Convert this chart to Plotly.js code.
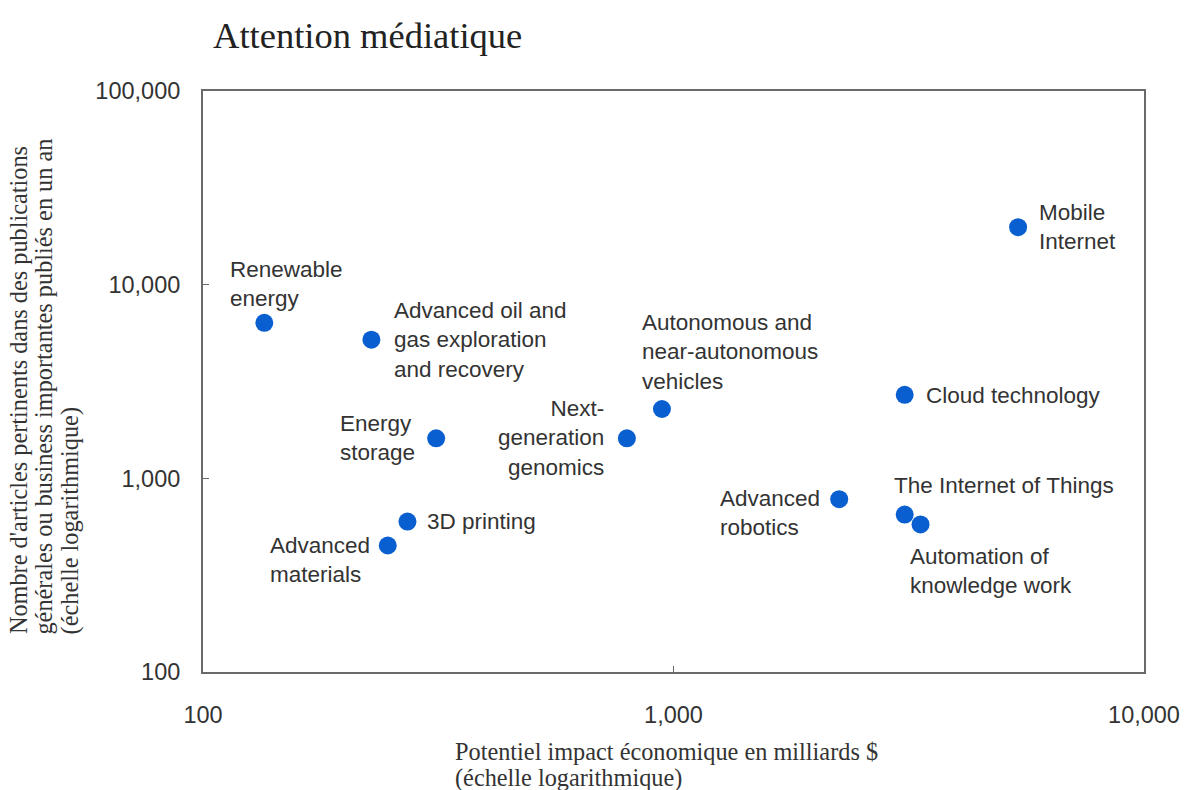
<!DOCTYPE html>
<html>
<head>
<meta charset="utf-8">
<script src="https://cdn.plot.ly/plotly-3.0.1.min.js"></script>
<style>
  html, body { margin: 0; padding: 0; background: #ffffff; }
  #chart { width: 1184px; height: 790px; }
</style>
</head>
<body>
<div id="chart"></div>
<script>
// Technologies: potential economic impact (billion $) vs. media articles per year
const technologies = [
  "Renewable<br>energy",
  "Advanced oil and<br>gas exploration<br>and recovery",
  "Energy<br>storage",
  "Next-<br>generation<br>genomics",
  "Autonomous and<br>near-autonomous<br>vehicles",
  "3D printing",
  "Advanced<br>materials",
  "Mobile<br>Internet",
  "Cloud technology",
  "Advanced<br>robotics",
  "The Internet of Things",
  "Automation of<br>knowledge work"
];
const economicImpact = [135, 228, 313, 796, 945, 272, 247, 5400, 3100, 2250, 3100, 3350];
const articleCount   = [6350, 5200, 1610, 1610, 2280, 598, 450, 19800, 2700, 780, 650, 578];

const xTickVals = [100, 1000, 10000];
const xTickText = ["100", "1,000", "10,000"];
const yTickVals = [100, 1000, 10000, 100000];
const yTickText = ["100", "1,000", "10,000", "100,000"];

const chartTitle = "Attention médiatique";
const xTitleLines = [
  "Potentiel impact économique en milliards <span style=\"color:#333333\">&#36;</span>",
  "(échelle logarithmique)"
];
const yTitleLines = [
  "Nombre d'articles pertinents dans des publications",
  "générales ou business importantes publiés en un an",
  "(échelle logarithmique)"
];

// Label placement around each marker (pixel offsets)
const labelPlacement = [
  {xanchor: "left",  yanchor: "bottom", xshift: -36, yshift: 10,  align: "left"},
  {xanchor: "left",  yanchor: "middle", xshift: 21,  yshift: 0,   align: "left"},
  {xanchor: "right", yanchor: "middle", xshift: -19, yshift: 0,   align: "left"},
  {xanchor: "right", yanchor: "middle", xshift: -21, yshift: 0,   align: "right"},
  {xanchor: "left",  yanchor: "bottom", xshift: -22, yshift: 13,  align: "left"},
  {xanchor: "left",  yanchor: "middle", xshift: 18,  yshift: 0,   align: "left"},
  {xanchor: "right", yanchor: "middle", xshift: -16, yshift: -15, align: "left"},
  {xanchor: "left",  yanchor: "middle", xshift: 19,  yshift: 0,   align: "left"},
  {xanchor: "left",  yanchor: "middle", xshift: 19,  yshift: -1,  align: "left"},
  {xanchor: "right", yanchor: "middle", xshift: -17, yshift: -14, align: "left"},
  {xanchor: "left",  yanchor: "middle", xshift: -13, yshift: 29,  align: "left"},
  {xanchor: "left",  yanchor: "middle", xshift: -13, yshift: -47, align: "left"}
];

const sans = "Liberation Sans, Arial, sans-serif";
const serif = "Liberation Serif, Times New Roman, serif";
const textColor = "#333333";

const trace = {
  type: "scatter",
  mode: "markers",
  x: economicImpact,
  y: articleCount,
  marker: { size: 18, color: "#0a5fd0" },
  hoverinfo: "skip",
  showlegend: false
};

const labelAnnotations = technologies.map((t, i) => Object.assign({
  x: Math.log10(economicImpact[i]),
  y: Math.log10(articleCount[i]),
  xref: "x", yref: "y",
  text: t,
  showarrow: false,
  font: { family: sans, size: 22.5, color: textColor }
}, labelPlacement[i]));

// Axis titles, one annotation per line so the line spacing can be set
const xTitleY = [-0.137, -0.183];
const xTitleAnnotations = xTitleLines.map((line, i) => ({
  xref: "paper", yref: "paper", x: 0.266, y: xTitleY[i],
  xanchor: "left", yanchor: "middle", align: "left",
  text: line, showarrow: false,
  font: { family: serif, size: 24.3, color: textColor }
}));

const yTitleX = [-0.196, -0.169, -0.141];
const yTitleAnnotations = yTitleLines.map((line, i) => ({
  xref: "paper", yref: "paper", x: yTitleX[i], y: 0.061,
  xanchor: "center", yanchor: "bottom", align: "left",
  textangle: -90,
  text: line, showarrow: false,
  font: { family: serif, size: 24.3, color: textColor }
}));

const axisCommon = {
  type: "log",
  showgrid: false,
  zeroline: false,
  showline: true,
  linecolor: "#6a6a6a",
  linewidth: 2,
  mirror: true,
  ticks: "inside",
  ticklen: 6,
  tickwidth: 1.5,
  tickcolor: "#6a6a6a",
  tickmode: "array",
  tickfont: { family: sans, size: 23.5, color: textColor }
};

const layout = {
  width: 1184,
  height: 790,
  paper_bgcolor: "#ffffff",
  plot_bgcolor: "#ffffff",
  margin: { l: 203, r: 40, t: 91, b: 118 },
  title: {
    text: chartTitle,
    x: 0.18, xanchor: "left",
    y: 0.956, yanchor: "middle",
    font: { family: serif, size: 36.5, color: "#222222" }
  },
  xaxis: Object.assign({}, axisCommon, {
    range: [2, 4],
    tickvals: xTickVals,
    ticktext: xTickText,
    ticklabelstandoff: 21
  }),
  yaxis: Object.assign({}, axisCommon, {
    range: [2, 5],
    tickvals: yTickVals,
    ticktext: yTickText,
    ticklabelstandoff: 16
  }),
  annotations: labelAnnotations.concat(xTitleAnnotations, yTitleAnnotations)
};

Plotly.newPlot("chart", [trace], layout, { displayModeBar: false, staticPlot: true });
</script>
</body>
</html>
